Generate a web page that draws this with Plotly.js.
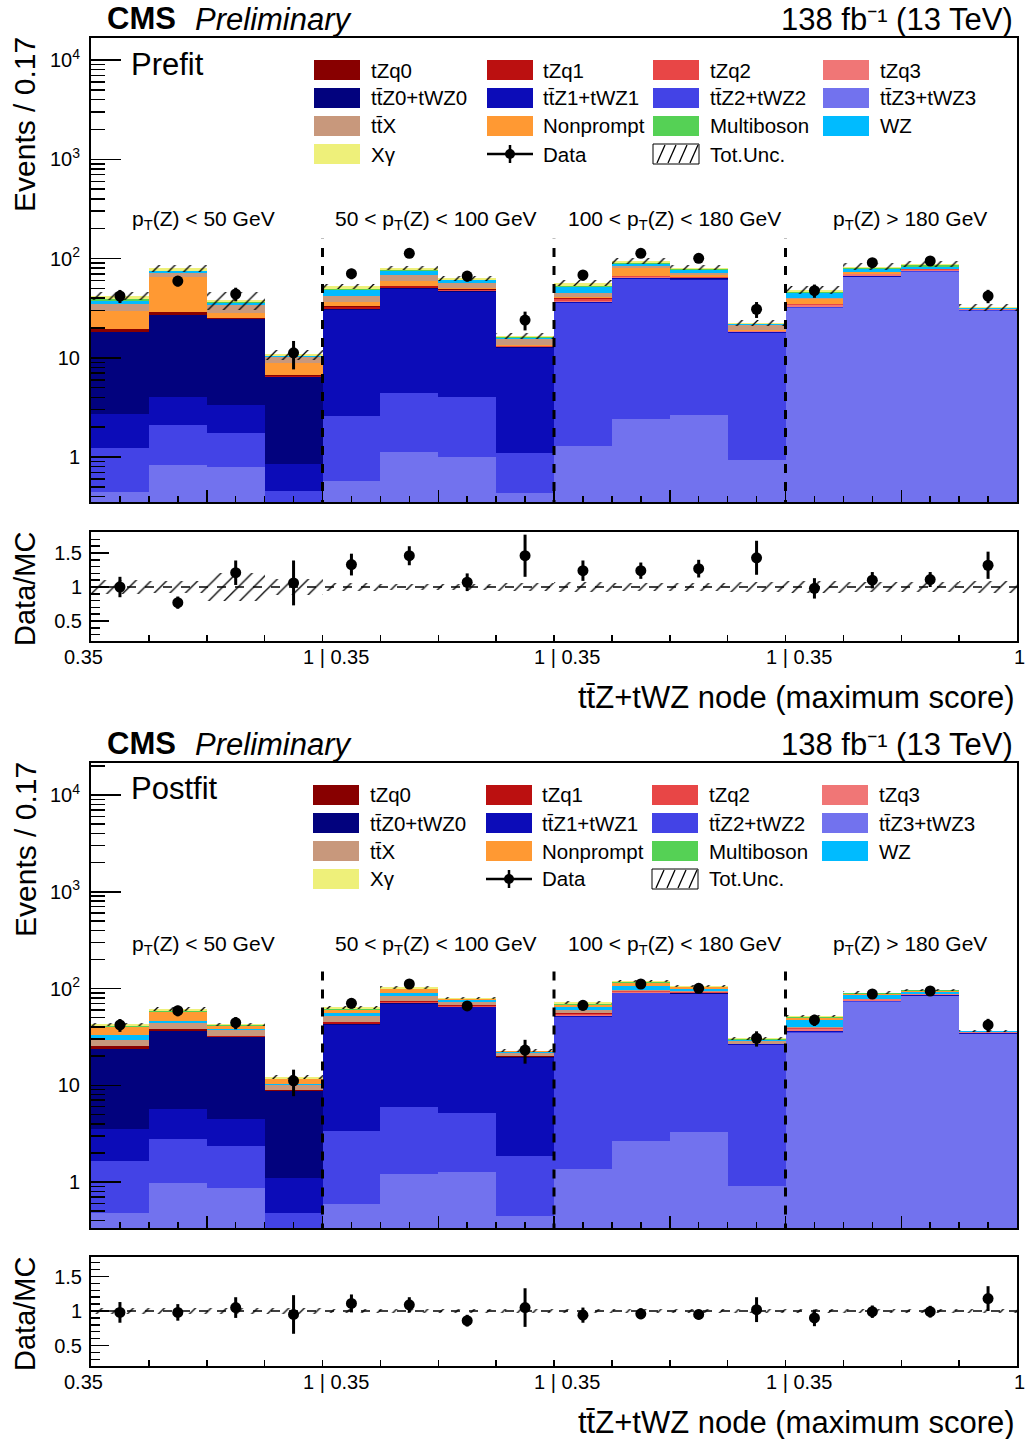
<!DOCTYPE html>
<html><head><meta charset="utf-8">
<script src="https://cdn.plot.ly/plotly-3.0.1.min.js"></script>
<style>html,body{margin:0;padding:0;background:#fff}</style>
</head><body><div id="chart" style="width:1026px;height:1439px"></div>
<script>
// ---------------- DATA ----------------
const nBins = 16;
const regionLabels = ["p<sub>T</sub>(Z) < 50 GeV", "50 < p<sub>T</sub>(Z) < 100 GeV", "100 < p<sub>T</sub>(Z) < 180 GeV", "p<sub>T</sub>(Z) > 180 GeV"];
const xTickLabels = ["0.35", "1 | 0.35", "1 | 0.35", "1 | 0.35", "1"];

// Prefit
const pre_ttZ3 = [0.44,0.83,0.80,0.10, 0.57,1.13,1.01,0.43, 1.29,2.41,2.65,0.93, 31.4,64.5,72.8,29.6];
const pre_ttZ2 = [0.80,1.27,0.93,0.35, 2.02,3.31,3.04,0.67, 34.0,59.5,58.5,16.8, 0.8,1.3,1.2,0.4];
const pre_ttZ1 = [1.47,1.89,1.61,0.41, 27.4,44.5,42.4,11.5, 1.0,1.6,1.4,0.4, 0.3,0.5,0.5,0.2];
const pre_ttZ0 = [15.3,23.0,21.06,5.58, 0.8,1.16,0.95,0.3, 0.41,0.59,0.55,0.17, 0.2,0.3,0.3,0.1];
const pre_tZq3 = [0.02,0.03,0.02,0.01, 0.1,0.1,0.1,0.05, 0.6,0.6,0.8,0.1, 1.6,2.5,2.3,0.6];
const pre_tZq2 = [0.05,0.07,0.03,0.02, 0.3,0.4,0.3,0.05, 2.0,1.5,1.6,0.3, 0.4,0.6,0.6,0.1];
const pre_tZq1 = [0.2,0.1,0.05,0.02, 1.6,1.8,0.9,0.1, 0.3,0.3,0.2,0.05, 0.05,0.1,0.05,0.02];
const pre_tZq0 = [1.2,1.5,0.5,0.2, 0.4,0.4,0.2,0.05, 0.1,0.1,0.1,0.02, 0.05,0.05,0.05,0.02];
const pre_np   = [10.4,36.0,3.5,2.22, 3.2,6.1,2.0,0.45, 1.5,13.1,2.4,0.23, 4.3,3.0,0.8,0.1];
const pre_ttX  = [5.0,7.2,5.3,1.19, 5.8,9.3,6.1,1.7, 3.4,4.0,3.0,2.4, 1.0,0.75,0.6,0.2];
const pre_WZ   = [2.5,2.4,1.8,0.3, 6.0,6.1,3.3,0.6, 6.6,4.4,5.4,0.4, 5.1,4.8,3.4,0.5];
const pre_MB   = [1.5,1.0,0.8,0.1, 1.2,1.6,1.0,0.2, 1.6,1.8,1.4,0.2, 1.2,2.0,2.5,0.2];
const pre_Xg   = [3.3,4.4,1.8,0.3, 3.4,3.8,1.8,0.5, 3.5,4.5,2.8,0.5, 1.8,2.2,2.3,0.2];
const pre_data = [41.9,59.3,43.9,11.2, 70.3,112.8,66.6,24.0, 68.2,112.8,100.5,30.8, 47.4,90.7,94.4,41.9];
const pre_ratio = [1.00,0.77,1.21,1.06, 1.33,1.46,1.07,1.46, 1.24,1.24,1.27,1.43, 0.98,1.10,1.11,1.32];
const pre_ratioErr = [0.15,0.09,0.18,0.33, 0.16,0.14,0.13,0.31, 0.15,0.12,0.13,0.25, 0.15,0.12,0.11,0.20];
const pre_unc = [0.10,0.09,0.20,0.12, 0.06,0.05,0.05,0.06, 0.07,0.06,0.06,0.07, 0.09,0.08,0.07,0.09];

// Postfit
const post_ttZ3 = [0.48,0.98,0.86,0.10, 0.59,1.21,1.26,0.45, 1.37,2.67,3.29,0.92, 35.0,72.2,83.1,33.7];
const post_ttZ2 = [1.17,1.78,1.50,0.38, 2.80,4.80,3.94,1.41, 49.5,86.5,84.6,25.2, 0.8,1.3,1.2,0.4];
const post_ttZ1 = [1.88,2.93,2.15,0.63, 38.2,63.9,58.5,17.3, 0.8,0.9,0.8,0.28, 0.4,0.5,0.5,0.2];
const post_ttZ0 = [19.97,30.7,27.29,7.61, 1.0,1.39,1.1,0.34, 0.33,0.43,0.41,0.1, 0.2,0.3,0.3,0.1];
const post_tZq3 = [0.02,0.05,0.02,0.01, 0.1,0.1,0.1,0.05, 0.8,1.0,1.0,0.1, 1.9,2.9,2.0,0.8];
const post_tZq2 = [0.05,0.1,0.05,0.02, 0.3,0.4,0.3,0.05, 2.2,1.8,1.8,0.3, 0.4,0.6,0.5,0.15];
const post_tZq1 = [0.2,0.25,0.13,0.02, 1.7,2.1,2.1,0.2, 0.3,0.2,0.2,0.05, 0.05,0.05,0.05,0.02];
const post_tZq0 = [1.83,1.0,0.5,0.2, 0.4,0.4,0.2,0.05, 0.1,0.1,0.1,0.02, 0.05,0.05,0.05,0.02];
const post_ttX  = [3.8,5.9,4.7,1.13, 6.9,10.0,5.6,1.85, 4.5,2.9,2.0,1.73, 0.8,0.8,0.5,0.2];
const post_WZ   = [3.6,2.8,1.2,0.2, 4.3,6.2,2.9,0.4, 4.9,9.6,5.5,0.6, 7.6,7.0,4.4,0.5];
const post_np   = [6.7,11.1,2.6,1.3, 3.6,7.6,1.8,0.3, 3.5,8.7,3.2,0.4, 2.4,2.0,1.0,0.1];
const post_MB   = [0.8,0.8,0.6,0.1, 1.2,1.8,0.8,0.1, 1.2,1.8,1.2,0.3, 1.4,1.6,1.8,0.1];
const post_Xg   = [2.1,3.0,1.0,0.4, 2.8,3.0,1.2,0.3, 2.5,3.0,2.0,0.6, 1.0,1.2,1.1,0.2];
const post_data = [42.0,59.0,44.3,11.1, 70.3,111.3,66.0,23.1, 67.0,111.3,100.5,30.6, 47.2,87.7,94.2,42.0];
const post_ratio = [0.98,0.98,1.05,0.95, 1.11,1.09,0.86,1.05, 0.94,0.96,0.95,1.02, 0.90,0.99,0.99,1.18];
const post_ratioErr = [0.15,0.12,0.15,0.28, 0.13,0.11,0.085,0.28, 0.11,0.08,0.07,0.18, 0.12,0.09,0.085,0.18];
const post_unc = [0.04,0.04,0.04,0.05, 0.03,0.03,0.03,0.03, 0.03,0.03,0.03,0.03, 0.03,0.03,0.03,0.03];

// ---------------- STYLE ----------------
const procStyle = {
  tZq0: {label:"tZq0", color:"#880000"},
  tZq1: {label:"tZq1", color:"#bb1010"},
  tZq2: {label:"tZq2", color:"#e84646"},
  tZq3: {label:"tZq3", color:"#f07676"},
  ttZ0: {label:"tt\u0304Z0+tWZ0", color:"#02027e"},
  ttZ1: {label:"tt\u0304Z1+tWZ1", color:"#0c0cb8"},
  ttZ2: {label:"tt\u0304Z2+tWZ2", color:"#4343e6"},
  ttZ3: {label:"tt\u0304Z3+tWZ3", color:"#7272ee"},
  ttX:  {label:"tt\u0304X", color:"#c8987c"},
  np:   {label:"Nonprompt", color:"#ff9933"},
  MB:   {label:"Multiboson", color:"#55d155"},
  WZ:   {label:"WZ", color:"#00bbff"},
  Xg:   {label:"X\u03b3", color:"#eef07a"}
};
const prefit = {ttZ3:pre_ttZ3, ttZ2:pre_ttZ2, ttZ1:pre_ttZ1, ttZ0:pre_ttZ0, tZq3:pre_tZq3, tZq2:pre_tZq2, tZq1:pre_tZq1, tZq0:pre_tZq0, np:pre_np, ttX:pre_ttX, WZ:pre_WZ, MB:pre_MB, Xg:pre_Xg};
const postfit = {ttZ3:post_ttZ3, ttZ2:post_ttZ2, ttZ1:post_ttZ1, ttZ0:post_ttZ0, tZq3:post_tZq3, tZq2:post_tZq2, tZq1:post_tZq1, tZq0:post_tZq0, ttX:post_ttX, WZ:post_WZ, np:post_np, MB:post_MB, Xg:post_Xg};
const orderPre  = ["ttZ3","ttZ2","ttZ1","ttZ0","tZq3","tZq2","tZq1","tZq0","np","ttX","WZ","MB","Xg"];
const orderPost = ["ttZ3","ttZ2","ttZ1","ttZ0","tZq3","tZq2","tZq1","tZq0","ttX","WZ","np","MB","Xg"];
const legendRows = [["tZq0","tZq1","tZq2","tZq3"],["ttZ0","ttZ1","ttZ2","ttZ3"],["ttX","np","MB","WZ"],["Xg","DATA","UNC"]];

const W = 1026, H = 1439;
const px = x => x / W, py = y => 1 - y / H;
const FONT = "Liberation Sans, Arial, Helvetica, sans-serif";
const bins = Array.from({length: nBins}, (_, i) => i + 0.5);

const traces = [];
const shapes = [];
const annotations = [];

function buildPanel(comp, order, data, ratio, ratioErr, unc, xa, ya, xr, yr) {
  const total = bins.map((_, i) => order.reduce((s, k) => s + comp[k][i], 0));
  order.forEach(k => traces.push({
    type: "bar", x: bins, y: comp[k], width: 1, xaxis: xa, yaxis: ya,
    marker: {color: procStyle[k].color, line: {width: 0}}, hoverinfo: "skip", showlegend: false
  }));
  const pat = {shape: "/", fgcolor: "#000", size: 11, solidity: 0.12};
  traces.push({type: "bar", x: bins, base: total.map((t, i) => t * (1 - unc[i])), y: total.map((t, i) => 2 * t * unc[i]),
    width: 1, xaxis: xa, yaxis: ya, marker: {color: "rgba(0,0,0,0)", line: {width: 0}, pattern: pat}, hoverinfo: "skip", showlegend: false});
  traces.push({type: "scatter", mode: "markers", x: bins, y: data, xaxis: xa, yaxis: ya,
    error_y: {type: "data", array: ratioErr.map((e, i) => e * total[i]), thickness: 3, width: 0, color: "#000"},
    marker: {color: "#000", size: 11}, hoverinfo: "skip", showlegend: false});
  // ratio
  traces.push({type: "bar", x: bins, base: unc.map(u => 1 - u), y: unc.map(u => 2 * u), width: 1, xaxis: xr, yaxis: yr,
    marker: {color: "rgba(0,0,0,0)", line: {width: 0}, pattern: pat}, hoverinfo: "skip", showlegend: false});
  traces.push({type: "scatter", mode: "markers", x: bins, y: ratio, xaxis: xr, yaxis: yr,
    error_y: {type: "data", array: ratioErr, thickness: 3, width: 0, color: "#000"},
    marker: {color: "#000", size: 11}, hoverinfo: "skip", showlegend: false});
}
buildPanel(prefit, orderPre, pre_data, pre_ratio, pre_ratioErr, pre_unc, "x", "y", "x2", "y2");
buildPanel(postfit, orderPost, post_data, post_ratio, post_ratioErr, post_unc, "x3", "y3", "x4", "y4");

// ---------------- AXES ----------------
const tickFont = {family: FONT, size: 20, color: "#000"};
function xMain(anchor, dom) {
  return {domain: dom, anchor: anchor, range: [0, 16], showline: true, mirror: true, linecolor: "#000", linewidth: 2,
    ticks: "inside", tickmode: "linear", tick0: 0, dtick: 2, ticklen: 12, tickwidth: 1.5, tickcolor: "#000",
    showticklabels: false, showgrid: false, zeroline: false,
    minor: {ticks: "inside", tickmode: "linear", tick0: 0, dtick: 0.5, ticklen: 6, tickwidth: 1.5, tickcolor: "#000", showgrid: false}};
}
function xRatio(anchor, dom) {
  return {domain: dom, anchor: anchor, range: [0, 16], showline: true, mirror: true, linecolor: "#000", linewidth: 2,
    ticks: "inside", tickmode: "linear", tick0: 0, dtick: 1, ticklen: 6, tickwidth: 1.5, tickcolor: "#000",
    showticklabels: false, showgrid: false, zeroline: false};
}
const minorLog = [];
for (let e = -1; e <= 4; e++) for (let d = 2; d <= 9; d++) minorLog.push(d * Math.pow(10, e));
function yMain(anchor, dom, rng) {
  return {domain: dom, anchor: anchor, type: "log", range: rng, showline: true, mirror: true, linecolor: "#000", linewidth: 2,
    ticks: "inside", tickmode: "array", tickvals: [1, 10, 100, 1000, 10000],
    ticktext: ["1", "10", "10<sup>2</sup>", "10<sup>3</sup>", "10<sup>4</sup>"], ticklabelstandoff: 5,
    ticklen: 30, tickwidth: 1.5, tickcolor: "#000", tickfont: tickFont, showgrid: false, zeroline: false,
    minor: {ticks: "inside", tickmode: "array", tickvals: minorLog, ticklen: 14, tickwidth: 1.5, tickcolor: "#000", showgrid: false}};
}
function yRatio(anchor, dom, rng) {
  return {domain: dom, anchor: anchor, range: rng, showline: true, mirror: true, linecolor: "#000", linewidth: 2,
    ticks: "inside", tickmode: "array", tickvals: [0.5, 1, 1.5], ticktext: ["0.5", "1", "1.5"], ticklabelstandoff: 3,
    ticklen: 18, tickwidth: 1.5, tickcolor: "#000", tickfont: tickFont, showgrid: false, zeroline: false,
    minor: {ticks: "inside", tickmode: "linear", tick0: 0, dtick: 0.1, ticklen: 9, tickwidth: 1.5, tickcolor: "#000", showgrid: false}};
}
const xDom = [px(91), px(1017)];

// ---------------- DECORATIONS ----------------
function ann(text, x, y, size, opts) {
  annotations.push(Object.assign({text: text, x: x, y: y, xref: "paper", yref: "paper", showarrow: false,
    xanchor: "left", yanchor: "middle", font: {family: FONT, size: size, color: "#000"}}, opts || {}));
}
function decorate(dy, tag, xr, xm, yMainAxis, yr, dashTop) {
  ann("<b>CMS</b>", px(105), py(18 + dy), 31);
  ann("<i>Preliminary</i>", px(193), py(19 + dy), 31);
  ann("138 fb\u207B\u00B9 (13 TeV)", px(1015), py(19 + dy), 31, {xanchor: "right"});
  ann(tag, px(129), py(64 + dy), 31);
  ann("Events / 0.17", px(25), py(125 + dy), 30, {xanchor: "center", textangle: -90});
  ann("Data/MC", px(25), py(589 + dy), 29, {xanchor: "center", textangle: -90});
  ann("tt\u0304Z+tWZ node (maximum score)", px(1017), py(697 + dy), 31, {xanchor: "right"});
  const rx = [203, 436, 674, 910];
  regionLabels.forEach((t, i) => ann(t, px(rx[i]), py(220 + dy), 21, {xanchor: "center"}));
  const shiftsX = [-8, 13, 13, 13, 2];
  xTickLabels.forEach((t, i) => annotations.push({text: t, x: 4 * i, xref: xr, y: py(657 + dy), yref: "paper",
    xshift: shiftsX[i], showarrow: false, xanchor: "center", yanchor: "middle", font: {family: FONT, size: 20, color: "#000"}}));
  // region separators
  [4, 8, 12].forEach(b => shapes.push({type: "line", xref: xm, yref: yMainAxis,
    x0: b, x1: b, y0: 0.3, y1: dashTop, line: {color: "#000", width: 3, dash: "dash"}, layer: "above"}));
  // legend
  const colX = [314, 487, 653, 823], txtX = [369, 541, 708, 878], rowY = [70, 98, 126, 154];
  legendRows.forEach((row, r) => row.forEach((k, c) => {
    const y = rowY[r] + dy;
    const x0 = colX[c] - (dy ? 1 : 0), tx = txtX[c] - (dy ? 1 : 0);
    if (k === "DATA") {
      shapes.push({type: "line", xref: "paper", yref: "paper", x0: px(x0), x1: px(x0 + 46), y0: py(y), y1: py(y), line: {color: "#000", width: 2.5}});
      shapes.push({type: "line", xref: "paper", yref: "paper", x0: px(x0 + 23), x1: px(x0 + 23), y0: py(y - 9), y1: py(y + 9), line: {color: "#000", width: 2.5}});
      shapes.push({type: "circle", xref: "paper", yref: "paper", x0: px(x0 + 18), x1: px(x0 + 28), y0: py(y + 5), y1: py(y - 5), fillcolor: "#000", line: {width: 0}});
      ann("Data", px(tx), py(y), 20.5);
    } else if (k === "UNC") {
      shapes.push({type: "rect", xref: "paper", yref: "paper", x0: px(x0), x1: px(x0 + 46), y0: py(y + 10), y1: py(y - 10), line: {color: "#000", width: 1}, fillcolor: "rgba(0,0,0,0)"});
      for (let j = 0; j < 4; j++) shapes.push({type: "line", xref: "paper", yref: "paper", x0: px(x0 + 4 + j * 11), x1: px(x0 + 12 + j * 11), y0: py(y + 9), y1: py(y - 9), line: {color: "#000", width: 1.3}});
      ann("Tot.Unc.", px(tx), py(y), 20.5);
    } else {
      shapes.push({type: "rect", xref: "paper", yref: "paper", x0: px(x0), x1: px(x0 + 46), y0: py(y + 10), y1: py(y - 10), fillcolor: procStyle[k].color, line: {width: 0}});
      ann(procStyle[k].label, px(tx), py(y), 20.5);
    }
  }));
  // ratio line at 1
  shapes.push({type: "line", xref: xr, yref: yr, x0: 0, x1: 16, y0: 1, y1: 1, line: {color: "#000", width: 1.5, dash: "dash"}, layer: "above"});
}
decorate(0, "Prefit", "x2", "x", "y", "y2", 158);
decorate(725, "Postfit", "x4", "x3", "y3", "y4", 150);

const layout = {
  width: W, height: H, margin: {l: 0, r: 0, t: 0, b: 0}, paper_bgcolor: "#fff", plot_bgcolor: "#fff",
  barmode: "stack", bargap: 0, showlegend: false, font: {family: FONT, color: "#000"},
  xaxis: xMain("y", xDom), yaxis: yMain("x", [py(502), py(38)], [-0.4534, 4.2217]),
  xaxis2: xRatio("y2", xDom), yaxis2: yRatio("x2", [py(641), py(532)], [0.206, 1.809]),
  xaxis3: xMain("y3", xDom), yaxis3: yMain("x3", [py(1228), py(763)], [-0.4755, 4.3307]),
  xaxis4: xRatio("y4", xDom), yaxis4: yRatio("x4", [py(1366), py(1257)], [0.203, 1.783]),
  shapes: shapes, annotations: annotations
};
Plotly.newPlot("chart", traces, layout, {staticPlot: true});
</script></body></html>
